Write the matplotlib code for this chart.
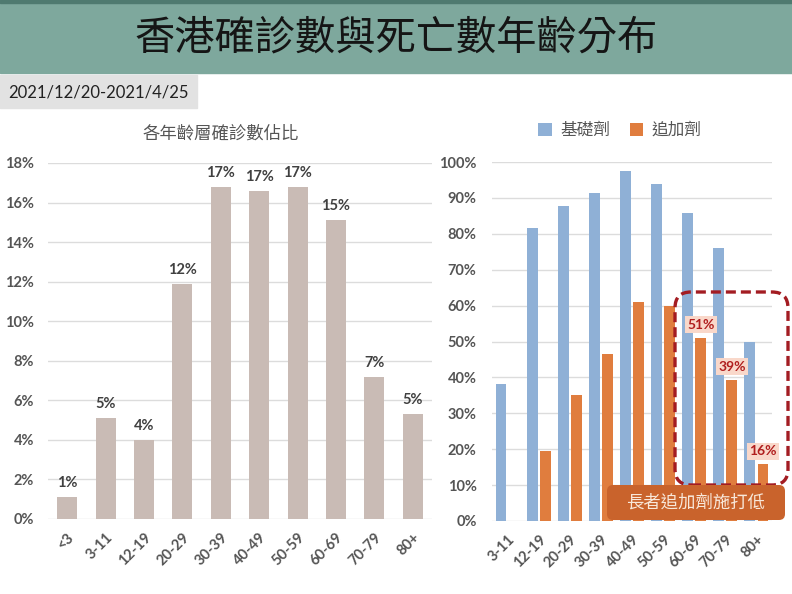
import matplotlib.pyplot as plt
from matplotlib.patches import Rectangle, FancyBboxPatch

plt.rcParams['font.family'] = ['Lato', 'Noto Sans CJK TC', 'DejaVu Sans']

# left chart: share of confirmed cases by age group (%)
age_left = ['<3', '3-11', '12-19', '20-29', '30-39', '40-49', '50-59', '60-69', '70-79', '80+']
case_share = [1.1, 5.1, 4.0, 11.9, 16.8, 16.6, 16.8, 15.1, 7.2, 5.3]

# right chart: vaccination coverage by age group (%)
age_right = ['3-11', '12-19', '20-29', '30-39', '40-49', '50-59', '60-69', '70-79', '80+']
primary = [38.1, 81.5, 87.7, 91.3, 97.5, 93.8, 85.7, 76.1, 49.9]
booster = [0, 19.5, 35.2, 46.4, 61.1, 59.9, 51.1, 39.3, 15.8]
booster_marked = ['60-69', '70-79', '80+']

grey_txt = '#555555'
grid_c = '#dcdcdc'

fig = plt.figure(figsize=(7.92, 5.94), dpi=100)

# header band and date tag
fig.add_artist(Rectangle((0, 1 - 73/594), 1, 73/594, transform=fig.transFigure,
                         color='#7ea89d', zorder=0))
fig.add_artist(Rectangle((0, 1 - 3/594), 1, 3/594, transform=fig.transFigure,
                         color='#4f7a70', zorder=0))
fig.add_artist(Rectangle((0, 1 - 108/594), 197/792, 33/594, transform=fig.transFigure,
                         color='#e2e2e2', zorder=0))
fig.text(0.5, 1 - 38/594, '香港確診數與死亡數年齡分布', ha='center', va='center',
         fontsize=29, fontweight='medium', color='#151515')
fig.text(8/792, 1 - 92/594, '2021/12/20-2021/4/25', ha='left', va='center',
         fontsize=12, color='#222222')

# ---- left chart
ax1 = fig.add_axes([48/792, 1 - 519/594, 384/792, 356/594])
x1 = range(len(age_left))
ax1.bar(x1, case_share, width=0.52, color='#c9bbb5', zorder=2)
for i, v in enumerate(case_share):
    ax1.text(i, v + 0.35, f'{round(v)}%', ha='center', va='bottom',
             fontsize=10.5, fontweight='bold', color='#404040')
ax1.set_xlim(-0.5, len(age_left) - 0.5)
ax1.set_ylim(0, 18)
ax1.set_yticks(range(0, 19, 2))
ax1.set_yticklabels([f'{t}%' for t in range(0, 19, 2)])
ax1.set_xticks(list(x1))
ax1.set_xticklabels(age_left, rotation=45, ha='right', rotation_mode='anchor')
fig.text(221/792, 1 - 133/594, '各年齡層確診數佔比', ha='center', va='center',
         fontsize=12.5, color=grey_txt)

# ---- right chart
ax2 = fig.add_axes([492/792, 1 - 521/594, 280/792, 359/594])
x2 = list(range(len(age_right)))
w = 0.35
ax2.bar([i - 0.21 for i in x2], primary, width=w, color='#8fb0d6', zorder=2, label='基礎劑')
ax2.bar([i + 0.21 for i in x2], booster, width=w, color='#e07d3e', zorder=2, label='追加劑')
for i, a in enumerate(age_right):
    if a in booster_marked:
        ax2.text(i + 0.21, booster[i] + 3.6, f'{round(booster[i])}%', ha='center',
                 va='center', fontsize=10, fontweight='bold', color='#b01e1e', zorder=5,
                 bbox=dict(boxstyle='square,pad=0.18', fc='#f9d8ca', ec='none'))
ax2.set_xlim(-0.5, len(age_right) - 0.5)
ax2.set_ylim(0, 100)
ax2.set_yticks(range(0, 101, 10))
ax2.set_yticklabels([f'{t}%' for t in range(0, 101, 10)])
ax2.set_xticks(x2)
ax2.set_xticklabels(age_right, rotation=45, ha='right', rotation_mode='anchor')
fig.legend(loc='center', bbox_to_anchor=(620/792, 1 - 130/594), ncol=2, frameon=False,
           handlelength=0.8, handleheight=0.8, columnspacing=1.2, handletextpad=0.5,
           prop={'size': 12}, labelcolor=grey_txt)

for ax, p in ((ax1, 10), (ax2, 11)):
    for s in ax.spines.values():
        s.set_visible(False)
    ax.yaxis.grid(True, color=grid_c, lw=1, zorder=0)
    ax.set_axisbelow(True)
    ax.tick_params(axis='y', length=0, labelsize=10.5, colors=grey_txt, pad=p)
    ax.tick_params(axis='x', length=0, labelsize=10.5, colors=grey_txt, pad=8)
    for lab in ax.get_yticklabels() + ax.get_xticklabels():
        lab.set_fontweight('bold')

# highlight box and callout (annotation, inches)
fig.add_artist(FancyBboxPatch((6.75, 1.09), 1.13, 1.93, transform=fig.dpi_scale_trans,
                              boxstyle='round,pad=0,rounding_size=0.16', fill=False,
                              ec='#a31c22', lw=2.4, ls=(0, (3, 1.5)), zorder=6))
fig.add_artist(FancyBboxPatch((6.07, 0.74), 1.78, 0.35, transform=fig.dpi_scale_trans,
                              boxstyle='round,pad=0,rounding_size=0.06',
                              fc='#c9632c', ec='none', zorder=7))
fig.text(6.96/7.92, 0.915/5.94, '長者追加劑施打低', ha='center', va='center',
         fontsize=12.5, color='#f8e8da', zorder=8)

fig.savefig('out.png', dpi=100)
